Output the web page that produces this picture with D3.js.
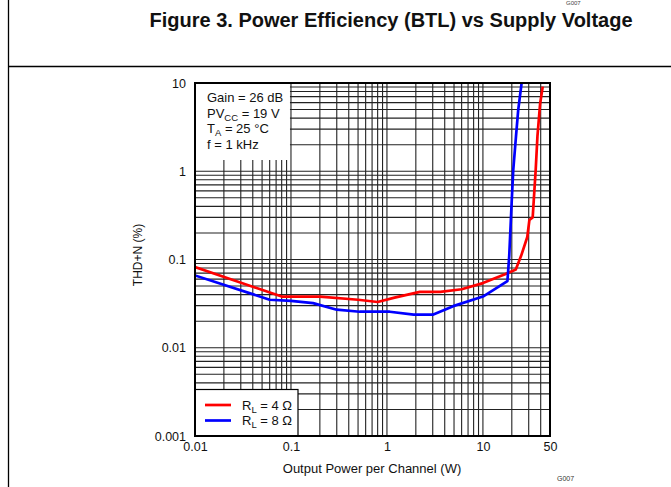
<!DOCTYPE html>
<html>
<head>
<meta charset="utf-8">
<script src="https://cdn.jsdelivr.net/npm/d3@7/dist/d3.min.js"></script>
<style>
  html, body { margin: 0; padding: 0; background: #fff; }
  svg { display: block; font-family: "Liberation Sans", Arial, sans-serif; }
</style>
</head>
<body>
<svg id="chart" width="671" height="487"></svg>
<script>
// ---- data ----
const titleText = "Figure 3. Power Efficiency (BTL) vs Supply Voltage";
const xTickValues = [0.01, 0.1, 1, 10, 50];
const xTickLabels = ["0.01", "0.1", "1", "10", "50"];
const yTickValues = [0.001, 0.01, 0.1, 1, 10];
const yTickLabels = ["0.001", "0.01", "0.1", "1", "10"];

const seriesNames = ["4", "8"];
const seriesColors = ["#ff0000", "#0000ff"];

const red4P = [0.01, 0.08, 0.2, 0.5, 0.8, 1.2, 2.2, 3.6, 6, 10, 17, 22, 25, 29, 30.5, 33, 35.5, 37, 39.5, 42];
const red4T = [0.082, 0.038, 0.038, 0.035, 0.033, 0.037, 0.043, 0.043, 0.046, 0.054, 0.068, 0.077, 0.11, 0.18, 0.28, 0.3, 1.05, 2.5, 5.9, 9.1];

const blue8P = [0.01, 0.06, 0.1, 0.17, 0.3, 0.52, 1.07, 1.9, 3.0, 4.9, 10, 18, 18.8, 19.9, 20.7, 22.1, 23.3, 25.3];
const blue8T = [0.066, 0.035, 0.034, 0.032, 0.027, 0.0256, 0.0256, 0.0237, 0.0237, 0.0296, 0.038, 0.057, 0.11, 0.43, 1.03, 2.47, 4.9, 10];

const conditions = [
  ["Gain = 26 dB", null, ""],
  ["PV", "CC", " = 19 V"],
  ["T", "A", " = 25 °C"],
  ["f = 1 kHz", null, ""]
];

// ---- layout ----
const svg = d3.select("#chart");
const W = 671, H = 487;
const plot = { left: 195, right: 550, top: 83, bottom: 436 };

const x = d3.scaleLog().domain([0.01, 50]).range([plot.left, plot.right]);
const y = d3.scaleLog().domain([0.001, 10]).range([plot.bottom, plot.top]);

// page frame
svg.append("line").attr("x1", 8.5).attr("x2", 8.5).attr("y1", 0).attr("y2", H)
  .attr("stroke", "#000").attr("stroke-width", 1.3);
svg.append("line").attr("x1", 8).attr("x2", W).attr("y1", 66.5).attr("y2", 66.5)
  .attr("stroke", "#000").attr("stroke-width", 1.3);

// title
svg.append("text").attr("x", 391).attr("y", 27).attr("text-anchor", "middle")
  .attr("font-size", 20).attr("font-weight", "bold").attr("fill", "#111").text(titleText);
svg.append("text").attr("x", 566).attr("y", 5).attr("font-size", 6).attr("fill", "#444").text("G007");

// grid
const minor = (lo, hi) => {
  const out = [];
  for (let e = Math.floor(Math.log10(lo)); e <= Math.ceil(Math.log10(hi)); e++) {
    for (let k = 1; k <= 9; k++) {
      const v = k * Math.pow(10, e);
      if (v >= lo * 0.9999 && v <= hi * 1.0001) out.push(v);
    }
  }
  return out;
};
const grid = svg.append("g").attr("stroke", "#222").attr("stroke-width", 1.1);
grid.selectAll(".vx").data(minor(0.01, 50)).join("line")
  .attr("x1", d => x(d)).attr("x2", d => x(d)).attr("y1", plot.top).attr("y2", plot.bottom);
grid.selectAll(".hy").data(minor(0.001, 10)).join("line")
  .attr("y1", d => y(d)).attr("y2", d => y(d)).attr("x1", plot.left).attr("x2", plot.right);

// annotation white box
svg.append("rect").attr("x", plot.left).attr("y", plot.top)
  .attr("width", x(0.1) - plot.left - 1).attr("height", 77).attr("fill", "#fff");
const ann = svg.append("g").attr("font-size", 13).attr("fill", "#111");
conditions.forEach((c, i) => {
  const t = ann.append("text").attr("x", 207).attr("y", 102 + i * 15.7);
  t.append("tspan").text(c[0]);
  if (c[1]) {
    t.append("tspan").attr("font-size", 9.5).attr("dy", 3).text(c[1]);
    t.append("tspan").attr("dy", -3).text(c[2]);
  }
});

// curves
const line = d3.line().x(d => x(d[0])).y(d => y(d[1]));
const series = [
  d3.zip(red4P, red4T),
  d3.zip(blue8P, blue8T)
];
svg.append("clipPath").attr("id", "clip").append("rect")
  .attr("x", plot.left).attr("y", plot.top)
  .attr("width", plot.right - plot.left).attr("height", plot.bottom - plot.top);
svg.append("g").attr("clip-path", "url(#clip)")
  .selectAll("path").data(series).join("path")
  .attr("d", line).attr("fill", "none")
  .attr("stroke", (d, i) => seriesColors[i]).attr("stroke-width", 2.7)
  .attr("stroke-linejoin", "round");

// legend
const lg = svg.append("g");
lg.append("rect").attr("x", plot.left).attr("y", 389.5).attr("width", 103).attr("height", plot.bottom - 389.5)
  .attr("fill", "#fff").attr("stroke", "#000").attr("stroke-width", 1.2);
seriesNames.forEach((n, i) => {
  const yy = 405 + i * 15.5;
  lg.append("line").attr("x1", 205).attr("x2", 231).attr("y1", yy).attr("y2", yy)
    .attr("stroke", seriesColors[i]).attr("stroke-width", 2.7);
  const t = lg.append("text").attr("x", 242).attr("y", yy + 4.5).attr("font-size", 13).attr("fill", "#111");
  t.append("tspan").text("R");
  t.append("tspan").attr("font-size", 9.5).attr("dy", 3).text("L");
  t.append("tspan").attr("dy", -3).text(" = " + n + " Ω");
});

// plot frame
svg.append("rect").attr("x", plot.left).attr("y", plot.top)
  .attr("width", plot.right - plot.left).attr("height", plot.bottom - plot.top)
  .attr("fill", "none").attr("stroke", "#000").attr("stroke-width", 2);

// axes labels
const xAxis = d3.axisBottom(x).tickValues(xTickValues).tickFormat((d, i) => xTickLabels[i]).tickSize(0).tickPadding(6);
const gx = svg.append("g").attr("transform", `translate(0,${plot.bottom})`).call(xAxis);
gx.select(".domain").remove();
gx.selectAll("text").attr("font-size", 12.5).attr("font-family", "Liberation Sans, Arial, sans-serif").attr("fill", "#111");

const yAxis = d3.axisLeft(y).tickValues(yTickValues).tickFormat((d, i) => yTickLabels[i]).tickSize(0).tickPadding(9);
const gy = svg.append("g").attr("transform", `translate(${plot.left},0)`).call(yAxis);
gy.select(".domain").remove();
gy.selectAll("text").attr("font-size", 12.5).attr("font-family", "Liberation Sans, Arial, sans-serif").attr("fill", "#111");

svg.append("text").attr("x", 372).attr("y", 473).attr("text-anchor", "middle")
  .attr("font-size", 13).attr("fill", "#111").text("Output Power per Channel (W)");
svg.append("text").attr("transform", "translate(142,255) rotate(-90)").attr("text-anchor", "middle")
  .attr("font-size", 12).attr("fill", "#111").text("THD+N (%)");
svg.append("text").attr("x", 557).attr("y", 481).attr("font-size", 7).attr("fill", "#333").text("G007");
</script>
</body>
</html>
